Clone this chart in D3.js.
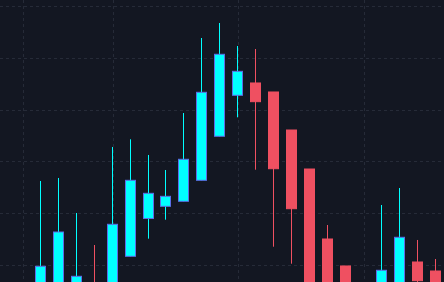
<!DOCTYPE html>
<meta charset="utf-8">
<head>
  <title>Candles</title>
</head>

<style>
html, body {
  margin: 0;
  padding: 0;
  background: #131722;
  overflow: hidden;
}
.grid line {
  stroke: #262b38;
  stroke-width: 1;
  stroke-dasharray: 3,3;
}
.up rect { fill: #00ffff; stroke: #5b6ee8; }
.up line { stroke: #00ffff; }
.down rect { fill: #ef5061; stroke: #ef5061; }
.down line { stroke: #ef5061; }
</style>

<body>
  <svg width="444" height="282"></svg>

  <script src="https://cdnjs.cloudflare.com/ajax/libs/d3/7.8.5/d3.min.js"></script>
  <script>

// one candle per day, index 0..23
var days  = d3.range(0, 24);
var open  = [95.2, 95.1, 96.0, 95.6, 96.4, 96.2, 101.68, 108.98, 111.33, 112.30, 116.35, 124.85,
             132.76, 135.14, 133.40, 126.06, 118.53, 105.02, 99.81, 95.8, 95.4, 96.1, 100.58, 98.84];
var high  = [96.1, 116.22, 116.80, 110.04, 103.86, 122.78, 124.27, 121.24, 118.34, 129.34, 143.82, 146.72,
             142.28, 141.70, 133.40, 126.06, 118.53, 107.72, 99.81, 96.4, 111.58, 114.86, 104.83, 101.16];
var low   = [93.8, 94.2, 95.3, 94.8, 93.9, 95.5, 101.68, 105.08, 108.75, 112.30, 116.35, 124.85,
             128.51, 118.40, 103.53, 100.25, 95.0, 94.6, 94.2, 93.6, 94.9, 95.5, 95.2, 94.8];
var close = [94.5, 99.75, 106.37, 97.82, 94.7, 107.86, 116.35, 113.84, 113.26, 120.41, 133.34, 140.68,
             137.39, 131.53, 118.59, 110.87, 96.0, 95.9, 95.3, 94.1, 98.98, 105.35, 96.97, 96.1];

// vertical grid on these days, horizontal grid on these prices
var gridDays = [0, 5, 12, 19];
var priceTicks = [100, 110, 120, 130, 140, 150];

var candles = days.map(function(d, i) {
  return {day: d, o: open[i], h: high[i], l: low[i], c: close[i]};
});

var svg = d3.select('svg');

var x = d3.scaleLinear().domain([1, 23]).range([40.3, 435.3]);
var y = d3.scaleLinear().domain([100, 150]).range([265, 6]);

var px = function(v) { return Math.floor(x(v)) + 0.5; };

var grid = svg.append('g').attr('class', 'grid');

grid.selectAll('.h')
  .data(priceTicks)
  .enter()
  .append('line')
  .attr('x1', 0)
  .attr('x2', 444)
  .attr('y1', function(d) { return Math.round(y(d)) + 0.5; })
  .attr('y2', function(d) { return Math.round(y(d)) + 0.5; });

grid.selectAll('.v')
  .data(gridDays)
  .enter()
  .append('line')
  .attr('x1', function(d) { return px(d) + 1; })
  .attr('x2', function(d) { return px(d) + 1; })
  .attr('y1', 0)
  .attr('y2', 282);

var g = svg.selectAll('.candle')
  .data(candles)
  .enter()
  .append('g')
  .attr('class', function(d) { return d.c >= d.o ? 'up' : 'down'; });

g.append('line')
  .attr('x1', function(d) { return px(d.day); })
  .attr('x2', function(d) { return px(d.day); })
  .attr('y1', function(d) { return y(d.h); })
  .attr('y2', function(d) { return y(d.l); });

g.append('rect')
  .attr('x', function(d) { return px(d.day) - 5; })
  .attr('width', 10)
  .attr('y', function(d) { return y(Math.max(d.o, d.c)); })
  .attr('height', function(d) { return Math.abs(y(d.o) - y(d.c)); });

  </script>
</body>
</html>
